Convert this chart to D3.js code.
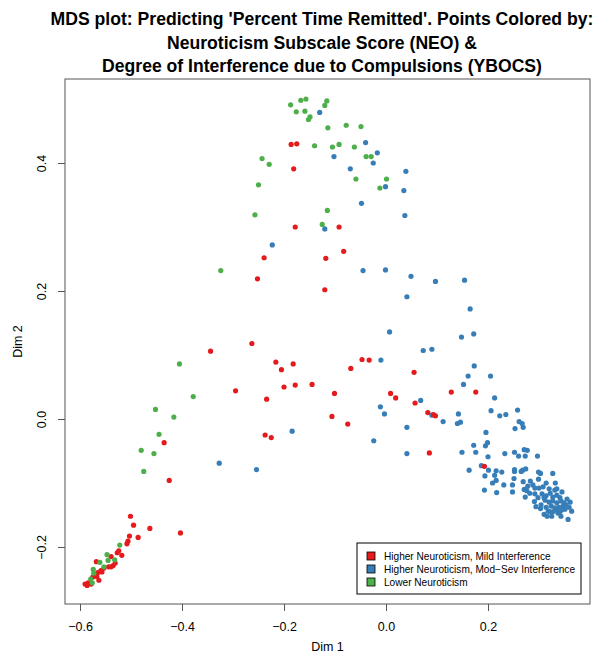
<!DOCTYPE html>
<html>
<head>
<meta charset="utf-8">
<script src="https://cdn.jsdelivr.net/npm/d3@7"></script>
<style>
  html, body { margin: 0; padding: 0; background: #fff; }
  svg { display: block; }
  text { font-family: "Liberation Sans", Arial, Helvetica, sans-serif; }
</style>
</head>
<body>
<div id="chart"></div>
<script>
// ---------------- DATA ----------------
const titleLines = [
  "MDS plot: Predicting 'Percent Time Remitted'. Points Colored by:",
  "Neuroticism Subscale Score (NEO) &",
  "Degree of Interference due to Compulsions (YBOCS)"
];
const xLabel = "Dim 1";
const yLabel = "Dim 2";
const xTicks = [-0.6, -0.4, -0.2, 0.0, 0.2];
const yTicks = [-0.2, 0.0, 0.2, 0.4];
const xDomain = [-0.6294, 0.4];
const yDomain = [-0.2891, 0.5313];

const groups = [
  "Higher Neuroticism, Mild Interference",
  "Higher Neuroticism, Mod\u2212Sev Interference",
  "Lower Neuroticism"
];
const groupColors = ["#E41A1C", "#377EB8", "#4DAF4A"];

// [Dim1, Dim2]
const mildPoints = [
  [-0.186,0.429],[-0.175,0.430],[-0.181,0.391],[-0.178,0.300],[-0.092,0.300],
  [-0.083,0.262],[-0.239,0.252],[-0.118,0.251],[-0.252,0.219],[-0.120,0.202],
  [-0.263,0.118],[-0.216,0.089],[-0.205,0.077],[-0.182,0.086],[-0.200,0.050],
  [-0.178,0.053],[-0.145,0.054],[-0.234,0.031],[-0.047,0.093],[-0.033,0.092],
  [-0.069,0.079],[0.055,0.073],[-0.101,0.040],[0.009,0.040],[0.019,0.033],
  [0.057,0.025],[0.082,0.010],[-0.106,0.004],[-0.075,-0.008],[-0.237,-0.025],
  [-0.225,-0.029],[0.085,-0.053],[-0.344,0.106],[-0.295,0.044],[0.128,0.042],
  [0.176,0.042],[0.093,0.007],[0.097,0.005],[0.193,-0.074],[-0.435,-0.037],
  [-0.425,-0.096],[-0.501,-0.152],[-0.495,-0.166],[-0.463,-0.171],[-0.403,-0.178],
  [-0.503,-0.183],[-0.486,-0.185],[-0.506,-0.191],[-0.508,-0.195],[-0.527,-0.209],
  [-0.518,-0.213],[-0.539,-0.215],[-0.568,-0.223],[-0.535,-0.229],[-0.544,-0.231],
  [-0.559,-0.237],[-0.565,-0.240],[-0.570,-0.244],[-0.575,-0.247],[-0.563,-0.252],
  [-0.584,-0.256],[-0.590,-0.258],[-0.578,-0.258],[-0.586,-0.260],[-0.539,-0.231],
  [-0.567,-0.246],[-0.531,-0.225],[-0.553,-0.233],[-0.524,-0.206],[-0.557,-0.239]
];

const modSevPoints = [
  [-0.130,0.479],[-0.040,0.432],[-0.017,0.416],[-0.102,0.410],[-0.025,0.400],
  [-0.070,0.391],[0.039,0.387],[-0.001,0.363],[0.035,0.357],[-0.048,0.337],
  [0.037,0.318],[-0.120,0.297],[-0.223,0.272],[-0.045,0.232],[-0.001,0.233],
  [0.049,0.223],[0.041,0.191],[0.007,0.136],[0.073,0.107],[0.090,0.109],
  [-0.010,0.092],[-0.011,0.019],[-0.003,0.008],[0.068,0.029],[0.041,-0.013],
  [-0.184,-0.019],[-0.024,-0.034],[0.041,-0.054],[-0.254,-0.079],[-0.327,-0.069],
  [0.097,0.215],[0.154,0.217],[0.165,0.172],[0.148,0.128],[0.172,0.133],
  [0.173,0.083],[0.161,0.067],[0.205,0.067],[0.152,0.054],[0.213,0.033],
  [0.206,0.013],[0.223,0.005],[0.235,0.007],[0.258,0.014],[0.142,0.008],
  [0.090,0.006],[0.112,-0.004],[0.140,-0.007],[0.146,-0.005],[0.261,-0.004],
  [0.267,-0.007],[0.253,-0.015],[0.269,-0.013],[0.196,-0.021],[0.172,-0.041],
  [0.199,-0.037],[0.195,-0.042],[0.149,-0.052],[0.176,-0.052],[0.200,-0.059],
  [0.233,-0.054],[0.252,-0.052],[0.271,-0.048],[0.277,-0.049],[0.260,-0.058],
  [0.273,-0.058],[0.297,-0.058],[0.163,-0.080],[0.187,-0.073],[0.201,-0.080],
  [0.216,-0.081],[0.227,-0.083],[0.194,-0.089],[0.213,-0.088],[0.252,-0.079],
  [0.252,-0.082],[0.268,-0.080],[0.274,-0.078],[0.265,-0.082],[0.299,-0.083],
  [0.303,-0.085],[0.327,-0.085],[0.209,-0.100],[0.216,-0.096],[0.231,-0.103],
  [0.248,-0.103],[0.251,-0.093],[0.269,-0.098],[0.283,-0.097],[0.299,-0.094],
  [0.314,-0.100],[0.332,-0.100],[0.193,-0.111],[0.217,-0.115],[0.248,-0.114],
  [0.271,-0.110],[0.276,-0.112],[0.292,-0.108],[0.300,-0.108],[0.335,-0.109],
  [0.345,-0.114],[0.273,-0.122],[0.291,-0.129],[0.294,-0.137],[0.303,-0.140],
  [0.310,-0.149],[0.322,-0.145],[0.337,-0.147],[0.345,-0.142],[0.364,-0.144],
  [0.357,-0.157],
  [0.306,-0.117],[0.314,-0.120],[0.322,-0.116],[0.327,-0.122],[0.335,-0.119],
  [0.341,-0.123],[0.312,-0.127],[0.320,-0.130],[0.327,-0.128],[0.335,-0.131],
  [0.343,-0.128],[0.349,-0.131],[0.304,-0.134],[0.314,-0.138],[0.324,-0.136],
  [0.331,-0.139],[0.339,-0.138],[0.347,-0.136],[0.353,-0.134],[0.318,-0.144],
  [0.327,-0.145],[0.333,-0.142],[0.341,-0.145],[0.351,-0.141],[0.359,-0.138],
  [0.310,-0.123],[0.298,-0.123],[0.292,-0.117],[0.282,-0.116],[0.355,-0.125],
  [0.361,-0.130],[0.325,-0.152],[0.316,-0.152],[0.343,-0.152],[0.331,-0.111],
  [0.320,-0.109],[0.308,-0.106],[0.288,-0.103],[0.278,-0.105]
];

const lowerPoints = [
  [-0.187,0.491],[-0.167,0.498],[-0.157,0.500],[-0.176,0.480],[-0.159,0.481],
  [-0.149,0.472],[-0.152,0.468],[-0.116,0.497],[-0.120,0.490],[-0.114,0.455],
  [-0.078,0.459],[-0.049,0.457],[-0.140,0.427],[-0.105,0.425],[-0.092,0.429],
  [-0.062,0.425],[-0.039,0.410],[-0.029,0.410],[-0.243,0.407],[-0.229,0.398],
  [-0.250,0.366],[-0.059,0.375],[0.001,0.375],[-0.012,0.361],[-0.257,0.319],
  [-0.115,0.326],[-0.125,0.304],[-0.324,0.232],[-0.405,0.086],[-0.378,0.035],
  [-0.452,0.015],[-0.416,0.003],[-0.445,-0.024],[-0.480,-0.049],[-0.455,-0.054],
  [-0.475,-0.082],[-0.522,-0.197],[-0.547,-0.212],[-0.561,-0.224],[-0.545,-0.221],
  [-0.532,-0.220],[-0.553,-0.231],[-0.574,-0.235],[-0.573,-0.241],[-0.579,-0.250],
  [-0.576,-0.256]
];

// ---------------- LAYOUT ----------------
const W = 599, H = 655;
const plot = { left: 65, right: 590, top: 79, bottom: 604 };

const svg = d3.select("#chart").append("svg")
  .attr("width", W).attr("height", H);

const x = d3.scaleLinear().domain(xDomain).range([plot.left, plot.right]);
const y = d3.scaleLinear().domain(yDomain).range([plot.bottom, plot.top]);

// Title
const title = svg.append("g");
const titleY = [25, 48.5, 72];
titleLines.forEach((t, i) => {
  title.append("text")
    .attr("x", 322).attr("y", titleY[i])
    .attr("text-anchor", "middle")
    .attr("font-size", 17.6).attr("font-weight", "bold")
    .attr("fill", "#000")
    .text(t);
});

// Points
const series = [modSevPoints, mildPoints, lowerPoints];
const seriesColor = [groupColors[1], groupColors[0], groupColors[2]];
series.forEach((pts, i) => {
  svg.append("g").selectAll("circle").data(pts).join("circle")
    .attr("cx", d => x(d[0]))
    .attr("cy", d => y(d[1]))
    .attr("r", 2.6)
    .attr("fill", seriesColor[i]);
});

// Box
svg.append("rect")
  .attr("x", plot.left).attr("y", plot.top)
  .attr("width", plot.right - plot.left).attr("height", plot.bottom - plot.top)
  .attr("fill", "none").attr("stroke", "#555").attr("stroke-width", 1);

const fmt = v => (v < 0 ? "\u2212" : "") + Math.abs(v).toFixed(1);

// X axis
const xAxis = d3.axisBottom(x).tickValues(xTicks).tickSize(7).tickPadding(11).tickFormat(fmt);
const gx = svg.append("g").attr("transform", `translate(0,${plot.bottom})`).call(xAxis);
gx.select(".domain").remove();
gx.selectAll("line").attr("stroke", "#555");
gx.selectAll("text").attr("font-size", 12.5).attr("font-family", "Liberation Sans, Arial, sans-serif").attr("fill", "#000");

// Y axis
const yAxis = d3.axisLeft(y).tickValues(yTicks).tickSize(7).tickPadding(0).tickFormat(fmt);
const gy = svg.append("g").attr("transform", `translate(${plot.left},0)`).call(yAxis);
gy.select(".domain").remove();
gy.selectAll("line").attr("stroke", "#555");
gy.selectAll("text")
  .attr("font-size", 12.5).attr("font-family", "Liberation Sans, Arial, sans-serif").attr("fill", "#000")
  .attr("text-anchor", "middle")
  .attr("x", 0).attr("dy", null)
  .attr("transform", "translate(-19,0) rotate(-90)");

// Axis labels
svg.append("text").attr("x", (plot.left + plot.right) / 2).attr("y", 651)
  .attr("text-anchor", "middle").attr("font-size", 12.5).text(xLabel);
svg.append("text")
  .attr("transform", `translate(22,${(plot.top + plot.bottom) / 2}) rotate(-90)`)
  .attr("text-anchor", "middle").attr("font-size", 12.5).text(yLabel);

// Legend
const lg = svg.append("g");
const lgBox = { x: 357, y: 543, w: 224, h: 51 };
lg.append("rect").attr("x", lgBox.x).attr("y", lgBox.y)
  .attr("width", lgBox.w).attr("height", lgBox.h)
  .attr("fill", "#fff").attr("stroke", "#000").attr("stroke-width", 1);
groups.forEach((g, i) => {
  const cy = 556 + i * 13;
  lg.append("rect").attr("x", 367).attr("y", cy - 4)
    .attr("width", 8).attr("height", 8)
    .attr("fill", groupColors[i]).attr("stroke", "#000").attr("stroke-width", 0.8);
  lg.append("text").attr("x", 384).attr("y", cy + 3.5)
    .attr("font-size", 10.1).attr("fill", "#000").text(g);
});
</script>
</body>
</html>
